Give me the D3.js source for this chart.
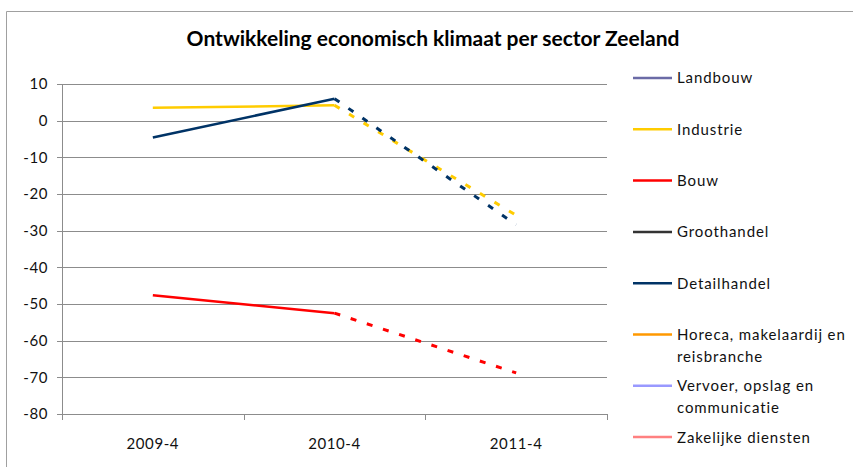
<!DOCTYPE html>
<html>
<head>
<meta charset="utf-8">
<script src="https://cdn.jsdelivr.net/npm/d3@7"></script>
<style>
  body { margin: 0; background: #fff; }
  svg { display: block; font-family: Lato, "Open Sans", sans-serif; }
</style>
</head>
<body>
<div id="chart"></div>
<script>
// datos del grafico
const categories = ["2009-4", "2010-4", "2011-4"];
const sectors = [
  "Landbouw", "Industrie", "Bouw", "Groothandel", "Detailhandel",
  "Horeca, makelaardij en reisbranche", "Vervoer, opslag en communicatie", "Zakelijke diensten"
];
const sectorColors = ["#6b6ba6", "#ffcc00", "#ff0000", "#333333", "#003366", "#ff9900", "#9999ff", "#ff8080"];

const landbouw = [null, null, null];
const industrie = [3.5, 4.2, -25.8];
const bouw = [-47.6, -52.5, -68.8];
const groothandel = [null, null, null];
const detailhandel = [-4.6, 6.0, -28.4];
const horeca = [null, null, null];
const vervoer = [null, null, null];
const zakelijk = [null, null, null];
const seriesValues = [landbouw, industrie, bouw, groothandel, detailhandel, horeca, vervoer, zakelijk];

// legend labels split in lines (as Excel wraps them)
const legendLines = [
  ["Landbouw"], ["Industrie"], ["Bouw"], ["Groothandel"], ["Detailhandel"],
  ["Horeca, makelaardij en", "reisbranche"], ["Vervoer, opslag en", "communicatie"], ["Zakelijke diensten"]
];
const yTicks = [10, 0, -10, -20, -30, -40, -50, -60, -70, -80];

// medidas
const width = 853;
const height = 467;
const plot = { left: 62, right: 607, top: 84, bottom: 414 };

const svg = d3.select("#chart")
  .append("svg")
  .attr("width", width)
  .attr("height", height);

// borde exterior del grafico
svg.append("path")
  .attr("d", `M6.5,${height} V11.5 H${width}`)
  .attr("fill", "none")
  .attr("stroke", "#a0a0a0")
  .attr("stroke-width", 1);

// titulo
svg.append("text")
  .attr("x", 433)
  .attr("y", 46)
  .attr("text-anchor", "middle")
  .style("font-size", "21px")
  .style("font-weight", "bold")
  .text("Ontwikkeling economisch klimaat per sector Zeeland");

const x = d3.scaleBand().domain(categories).range([plot.left, plot.right]);
const y = d3.scaleLinear().domain([-80, 10]).range([plot.bottom, plot.top]);

// lineas de cuadricula
svg.append("g")
  .selectAll("line")
  .data(yTicks)
  .join("line")
  .attr("x1", plot.left - 5)
  .attr("x2", plot.right)
  .attr("y1", (d) => Math.round(y(d)) + 0.5)
  .attr("y2", (d) => Math.round(y(d)) + 0.5)
  .attr("stroke", "#8c8c8c");

// eje y
svg.append("line")
  .attr("x1", plot.left + 0.5)
  .attr("x2", plot.left + 0.5)
  .attr("y1", plot.top)
  .attr("y2", plot.bottom + 0.5)
  .attr("stroke", "#8c8c8c");

svg.append("g")
  .selectAll("text")
  .data(yTicks)
  .join("text")
  .attr("x", 48)
  .attr("y", (d) => y(d))
  .attr("dy", "0.36em")
  .attr("text-anchor", "end")
  .style("font-size", "15px")
  .style("letter-spacing", "0.6px")
  .attr("fill", "#111")
  .text((d) => d);

// eje x: marcas en los limites de cada categoria
const bounds = categories.map((c) => x(c)).concat([x(categories[categories.length - 1]) + x.bandwidth()]);
svg.append("g")
  .selectAll("line")
  .data(bounds)
  .join("line")
  .attr("x1", (d) => Math.round(d) + 0.5)
  .attr("x2", (d) => Math.round(d) + 0.5)
  .attr("y1", plot.bottom)
  .attr("y2", plot.bottom + 6)
  .attr("stroke", "#8c8c8c");

svg.append("g")
  .selectAll("text")
  .data(categories)
  .join("text")
  .attr("x", (d) => x(d) + x.bandwidth() / 2)
  .attr("y", 449)
  .attr("text-anchor", "middle")
  .style("font-size", "15px")
  .style("letter-spacing", "0.6px")
  .attr("fill", "#111")
  .text((d) => d);

// lineas: realizado (solido) y verwachting (discontinuo)
const line = d3.line()
  .defined((d) => d.v != null)
  .x((d) => x(d.c) + x.bandwidth() / 2)
  .y((d) => y(d.v));

const series = sectors.map((name, i) => ({
  name,
  color: sectorColors[i],
  points: categories.map((c, j) => ({ c, v: seriesValues[i][j] }))
}));

const lines = svg.append("g");
series.forEach((s) => {
  if (s.points.every((p) => p.v == null)) return;
  lines.append("path")
    .attr("d", line(s.points.slice(0, 2)))
    .attr("fill", "none")
    .attr("stroke", s.color)
    .attr("stroke-width", 2.5);
  lines.append("path")
    .attr("d", line(s.points.slice(1)))
    .attr("fill", "none")
    .attr("stroke", s.color)
    .attr("stroke-width", 3)
    .attr("stroke-dasharray", "6,11");
});

// leyenda
const legend = svg.append("g").attr("transform", "translate(633,78)");
const item = legend.selectAll("g")
  .data(series)
  .join("g")
  .attr("transform", (d, i) => `translate(0,${i * 51.3})`);

item.append("line")
  .attr("x1", 0)
  .attr("x2", 39)
  .attr("stroke", (d) => d.color)
  .attr("stroke-width", 2.5);

item.append("text")
  .style("font-size", "15px")
  .style("letter-spacing", "0.9px")
  .attr("fill", "#111")
  .selectAll("tspan")
  .data((d, i) => legendLines[i])
  .join("tspan")
  .attr("x", 44)
  .attr("y", (d, i) => i * 22)
  .attr("dy", "0.36em")
  .text((d) => d);
</script>
</body>
</html>
